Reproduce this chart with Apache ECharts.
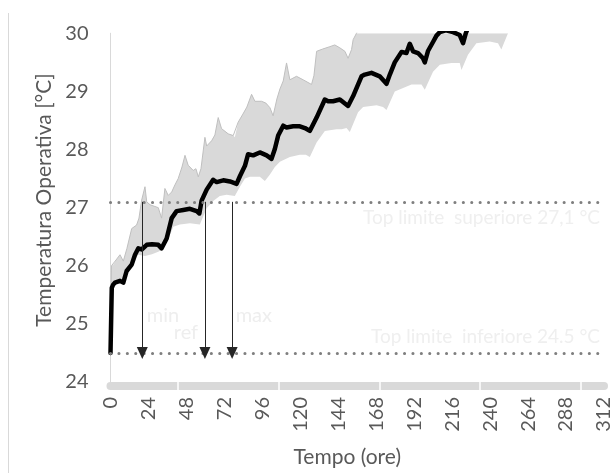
<!DOCTYPE html>
<html>
<head>
<meta charset="utf-8">
<script src="https://cdn.jsdelivr.net/npm/echarts@6/dist/echarts.min.js"></script>
<style>html,body{margin:0;padding:0;background:#fff}#c{width:614px;height:473px}</style>
</head>
<body>
<div id="c"></div>
<script>
// Reference (black) curve
var refHours = [0, 0.8, 1.6, 2.8, 6, 8.1, 10.2, 13.4, 15.5, 17.6, 19.7, 22.9, 26.2, 30.2, 32.3, 35.5, 38.7, 41.8, 46, 50.2, 54.5, 56.2, 57.6, 60.8, 64.9, 67.1, 71.3, 75.5, 79.7, 81.8, 85, 87, 90.2, 94.4, 98.7, 101.8, 103.9, 106, 109.2, 111.3, 115.5, 119.7, 122.9, 126, 130.3, 135.5, 137.6, 140.7, 145, 150.2, 153.4, 158.7, 160.8, 165, 170.2, 174.5, 176.6, 179.7, 184, 187.1, 189.2, 191.3, 194.4, 197.6, 198.7, 200.8, 203.9, 206.1, 208.2, 212, 216.6, 220.8, 222.9, 224.6, 225.8];
var refTemp  = [24.5, 25.62, 25.67, 25.71, 25.74, 25.71, 25.91, 26.02, 26.19, 26.3, 26.28, 26.36, 26.37, 26.36, 26.3, 26.47, 26.82, 26.94, 26.96, 26.98, 26.94, 26.9, 27.12, 27.31, 27.48, 27.44, 27.47, 27.45, 27.41, 27.54, 27.72, 27.92, 27.9, 27.95, 27.9, 27.84, 28.01, 28.24, 28.41, 28.38, 28.4, 28.4, 28.37, 28.32, 28.55, 28.86, 28.83, 28.83, 28.86, 28.75, 28.92, 29.26, 29.29, 29.32, 29.26, 29.13, 29.29, 29.5, 29.68, 29.66, 29.82, 29.69, 29.66, 29.57, 29.5, 29.7, 29.85, 29.96, 30.02, 30.05, 30.02, 29.97, 29.83, 30.0, 30.08];
// Upper envelope (max)
var maxHours = [0, 0.6, 1.8, 3.5, 6, 8.1, 10.4, 13.4, 16.5, 18, 19.7, 21.8, 22.9, 25, 28.1, 30.2, 32.3, 34.4, 36.5, 38.7, 40.7, 42.8, 45.2, 47.1, 49.1, 52.3, 54, 55.5, 57.2, 59.7, 60.8, 63.9, 66, 68.1, 70.2, 74.4, 77.6, 78.6, 80.7, 83.7, 86.2, 89.2, 91.3, 95.5, 98.2, 100.8, 102.8, 105.2, 107.1, 109.2, 111.3, 113.4, 117.6, 121.8, 127.1, 128.6, 130.3, 134.2, 138.7, 141.8, 145, 148.2, 150.2, 152.4, 153.4, 155.5, 157.6, 170, 185, 200, 220, 240, 251.3];
var maxTemp  = [24.5, 26.0, 26.02, 26.1, 26.19, 26.08, 26.3, 26.64, 26.7, 26.82, 27.13, 27.36, 27.1, 27.05, 27.02, 27.0, 26.82, 27.33, 27.21, 27.27, 27.39, 27.5, 27.7, 27.9, 27.73, 27.64, 27.67, 27.53, 27.67, 28.21, 28.06, 28.15, 28.25, 28.55, 28.36, 28.27, 28.24, 28.21, 28.47, 28.61, 28.73, 28.95, 28.83, 28.83, 28.8, 28.72, 28.58, 28.87, 29.04, 29.18, 29.49, 29.2, 29.26, 29.2, 29.12, 29.27, 29.69, 29.73, 29.77, 29.8, 29.75, 29.69, 29.57, 29.72, 29.89, 30.0, 30.1, 30.35, 30.6, 30.9, 31.2, 31.5, 31.7];
// Lower envelope (min)
var minHours = [0, 0.8, 2.8, 6, 8.1, 10.2, 13.4, 15.5, 17.6, 21.8, 26.2, 30.2, 32.3, 36.3, 39.7, 43.9, 50.2, 56.5, 60.8, 64.7, 69.1, 73.4, 78.6, 81.8, 85, 88.1, 94.4, 97.6, 100.8, 103.9, 107.1, 113.4, 119.7, 123.5, 126, 130.3, 135.5, 142.9, 146.2, 149.2, 151.3, 156.5, 159.7, 168.2, 172.3, 174.5, 179.7, 185, 190.3, 196.6, 198.7, 203.9, 208.2, 215.5, 220.8, 221.9, 226, 231.3, 239.7, 245, 247.1, 251.3];
var minTemp  = [24.5, 25.59, 25.67, 25.7, 25.67, 25.86, 25.98, 26.12, 26.19, 26.17, 26.2, 26.24, 26.27, 26.44, 26.67, 26.71, 26.73, 26.71, 26.99, 27.11, 27.2, 27.22, 27.2, 27.36, 27.5, 27.53, 27.53, 27.46, 27.57, 27.7, 27.79, 27.87, 27.91, 27.91, 27.87, 28.12, 28.32, 28.35, 28.35, 28.37, 28.3, 28.64, 28.73, 28.76, 28.73, 28.68, 29.0, 29.06, 29.12, 29.12, 29.03, 29.34, 29.46, 29.49, 29.49, 29.37, 29.63, 29.83, 29.86, 29.83, 29.72, 30.0];
// Limits and crossing arrows
var limitUpper = 27.1;
var limitLower = 24.5;
var limitUpperText = 'Top limite  superiore 27,1 °C';
var limitLowerText = 'Top limite  inferiore 24.5 °C';
var arrowHours = [20.1, 59.7, 76.9];
var arrowNames = ['min', 'ref', 'max'];
var arrowLabelPos = [[33.2, 25.14], [47.7, 24.85], [90.6, 25.14]];
// Axes
var xMin = 0, xMax = 312, xStep = 24;
var yMin = 24, yMax = 30, yStep = 1;
var barGapHours = [42.7, 106.5, 170.3, 233.5, 297.3];
var xTitle = 'Tempo (ore)';
var yTitle = 'Temperatura Operativa [°C]';

var FONT = 'Lato, "Open Sans", sans-serif';
var chart = echarts.init(document.getElementById('c'), null, {renderer: 'canvas'});

function zip(a, b) { return a.map(function (v, i) { return [v, b[i]]; }); }

var arrowLines = arrowHours.map(function (h) {
  return [{coord: [h, limitUpper], symbol: 'none'}, {coord: [h, limitLower], symbol: 'triangle'}];
});

var option = {
  animation: false,
  backgroundColor: '#ffffff',
  grid: {left: 110.5, right: 10, top: 33.3, bottom: 88, containLabel: false},
  graphic: [{
    type: 'line', shape: {x1: 8.5, y1: 13, x2: 8.5, y2: 473},
    style: {stroke: '#d9d9d9', lineWidth: 1}
  }, {
    type: 'text', x: 44, y: 200, rotation: Math.PI / 2,
    style: {text: yTitle, fill: '#595959', fontSize: 21, fontFamily: FONT, align: 'center', verticalAlign: 'middle'}
  }],
  xAxis: [{
    type: 'value', min: xMin, max: xMax, interval: xStep, offset: 4,
    axisLine: {show: true, lineStyle: {color: '#d9d9d9', width: 8}},
    axisTick: {show: false},
    splitLine: {show: false},
    axisLabel: {rotate: 90, color: '#595959', fontFamily: FONT, fontSize: 20, margin: 11},
    name: xTitle, nameLocation: 'middle', nameGap: 61,
    nameTextStyle: {color: '#595959', fontFamily: FONT, fontSize: 21, padding: [0, 20, 0, 0]}
  }, {
    type: 'value', min: xMin, max: xMax, position: 'bottom', offset: 0,
    axisLine: {show: false},
    axisTick: {show: true, customValues: barGapHours, length: 8, inside: false, lineStyle: {color: '#ffffff', width: 1.5}},
    axisLabel: {show: false},
    splitLine: {show: false}
  }],
  yAxis: [{
    type: 'value', min: yMin, max: yMax, interval: yStep,
    axisLine: {show: true, lineStyle: {color: '#d9d9d9', width: 1}},
    axisTick: {show: false},
    splitLine: {show: false},
    axisLabel: {color: '#595959', fontFamily: FONT, fontSize: 20, margin: 22}
  }, {
    type: 'value', min: yMin, max: yMax, position: 'right',
    axisLine: {show: true, lineStyle: {color: '#d9d9d9', width: 1}},
    axisTick: {show: false}, axisLabel: {show: false}, splitLine: {show: false}
  }],
  series: [{
    type: 'custom',
    coordinateSystem: 'cartesian2d',
    xAxisIndex: 0, yAxisIndex: 0,
    clip: true,
    z: 1,
    data: [[xMin, yMin]],
    renderItem: function (params, api) {
      var pts = [];
      for (var i = 0; i < maxHours.length; i++) pts.push(api.coord([maxHours[i], maxTemp[i]]));
      for (var j = minHours.length - 1; j >= 0; j--) pts.push(api.coord([minHours[j], minTemp[j]]));
      var cs = params.coordSys;
      return {
        type: 'polygon',
        shape: {points: pts},
        style: {fill: '#d9d9d9', stroke: null},
        clipPath: {type: 'rect', shape: {x: cs.x, y: cs.y, width: cs.width, height: cs.height}}
      };
    }
  }, {
    type: 'line',
    z: 2,
    data: zip(maxHours, maxTemp),
    symbol: 'none',
    clip: true,
    lineStyle: {color: '#bfbfbf', width: 1},
    markLine: {
      silent: true,
      symbol: 'none',
      animation: false,
      lineStyle: {color: '#7f7f7f', width: 3, type: [0.1, 8.3], cap: 'round'},
      label: {show: true, color: '#efefef', fontFamily: FONT, fontSize: 19, distance: [4, 7]},
      data: [
        {yAxis: limitUpper, label: {position: 'insideEndBottom', formatter: limitUpperText}},
        {yAxis: limitLower, label: {position: 'insideEndTop', formatter: limitLowerText}}
      ]
    }
  }, {
    type: 'line',
    z: 3,
    data: [],
    markLine: {
      silent: true,
      animation: false,
      symbolSize: [11, 12],
      lineStyle: {color: '#262626', width: 1, type: 'solid'},
      label: {show: false},
      data: arrowLines
    },
    markPoint: {
      silent: true,
      symbol: 'circle', symbolSize: 0,
      label: {show: true, color: '#eeeeee', fontFamily: FONT, fontSize: 20, position: 'inside'},
      data: arrowNames.map(function (n, i) {
        return {coord: arrowLabelPos[i], value: n, label: {formatter: n}};
      })
    }
  }, {
    type: 'line',
    z: 4,
    data: zip(refHours, refTemp),
    symbol: 'none',
    clip: true,
    lineStyle: {color: '#000000', width: 4.5, join: 'round', cap: 'round'}
  }]
};
chart.setOption(option);
</script>
</body>
</html>
